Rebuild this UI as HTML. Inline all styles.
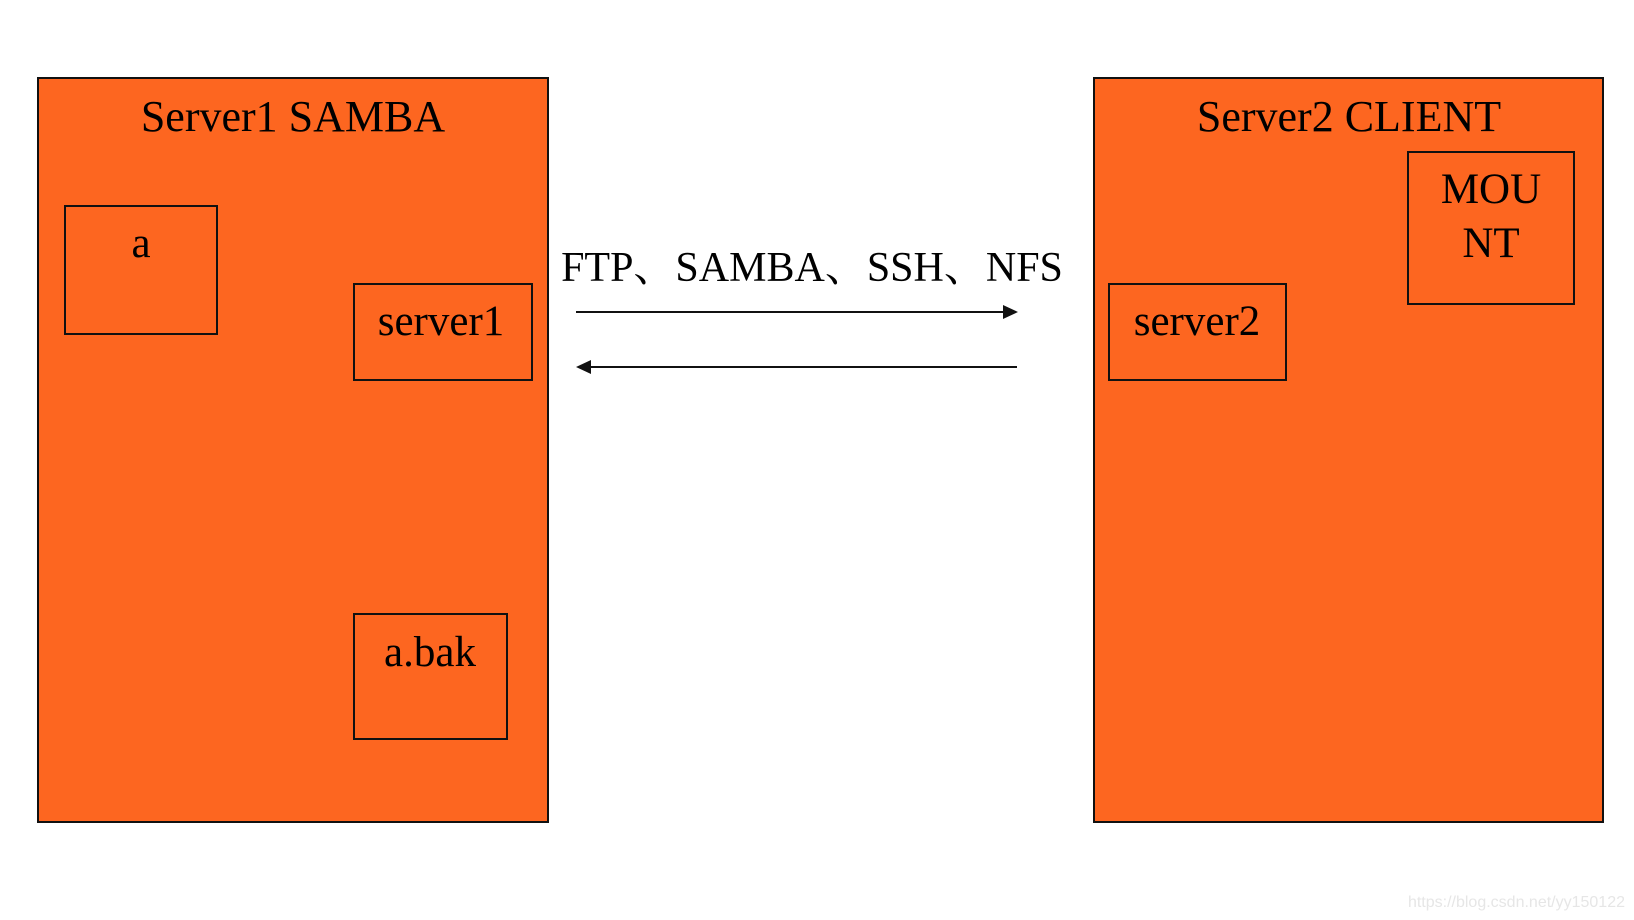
<!DOCTYPE html>
<html><head><meta charset="utf-8"><style>
html,body{margin:0;padding:0;background:#fff;}
svg{display:block;}
text{font-family:"Liberation Serif","Noto Serif CJK SC",serif;fill:#000;}
</style></head><body>
<svg width="1634" height="920" viewBox="0 0 1634 920" xmlns="http://www.w3.org/2000/svg">
<rect x="38" y="78" width="510" height="744" fill="#FD6620" stroke="#111" stroke-width="2"/>
<rect x="1094" y="78" width="509" height="744" fill="#FD6620" stroke="#111" stroke-width="2"/>
<text x="293" y="131" font-size="44" text-anchor="middle">Server1 SAMBA</text>
<text x="1349" y="131" font-size="44" text-anchor="middle">Server2 CLIENT</text>
<rect x="65" y="206" width="152" height="128" fill="none" stroke="#111" stroke-width="2"/>
<text x="141" y="257" font-size="43" text-anchor="middle">a</text>
<rect x="354" y="284" width="178" height="96" fill="none" stroke="#111" stroke-width="2"/>
<text x="441" y="335" font-size="43" text-anchor="middle">server1</text>
<rect x="354" y="614" width="153" height="125" fill="none" stroke="#111" stroke-width="2"/>
<text x="430" y="666" font-size="43" text-anchor="middle">a.bak</text>
<rect x="1109" y="284" width="177" height="96" fill="none" stroke="#111" stroke-width="2"/>
<text x="1197" y="335" font-size="43" text-anchor="middle">server2</text>
<rect x="1408" y="152" width="166" height="152" fill="none" stroke="#111" stroke-width="2"/>
<text x="1491" y="203" font-size="43" text-anchor="middle">MOU</text>
<text x="1491" y="257" font-size="43" text-anchor="middle">NT</text>
<text x="812" y="281" font-size="42" text-anchor="middle">FTP、SAMBA、SSH、NFS</text>
<line x1="576" y1="312" x2="1005" y2="312" stroke="#111" stroke-width="2"/>
<polygon points="1018,312 1003,305 1003,319" fill="#111"/>
<line x1="590" y1="367" x2="1017" y2="367" stroke="#111" stroke-width="2"/>
<polygon points="576,367 591,360 591,374" fill="#111"/>
<text x="1625" y="907" font-size="16" text-anchor="end" style="font-family:'Liberation Sans',sans-serif;fill:#e6e6e6">https://blog.csdn.net/yy150122</text>
</svg>
</body></html>
